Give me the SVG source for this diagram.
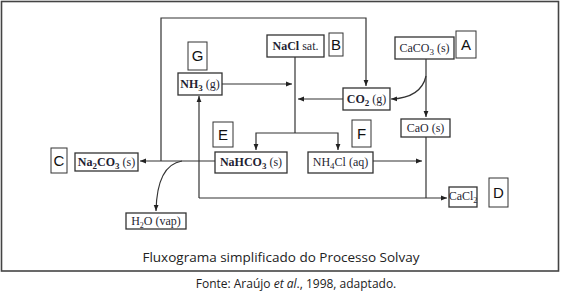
<svg xmlns="http://www.w3.org/2000/svg" width="561" height="292" viewBox="0 0 561 292">
<defs>
<marker id="ah" viewBox="0 0 10 10" refX="10" refY="5" markerWidth="6" markerHeight="6" markerUnits="userSpaceOnUse" orient="auto">
<path d="M0,1 L10,5 L0,9 Z" fill="#222"/>
</marker>
</defs>
<style>
.box{fill:#fff;stroke:#333;stroke-width:1.3}
.lbl{fill:#fff;stroke:#333;stroke-width:1}
.t{font-family:"Liberation Serif","Times New Roman",serif;font-size:12px;fill:#1f1f33;text-anchor:middle}
.b{font-weight:bold}
.L{font-family:"Liberation Sans",Arial,sans-serif;font-size:15px;fill:#111;text-anchor:middle}
.c{fill:none;stroke:#333;stroke-width:1.2}
.a{marker-end:url(#ah)}
.cap{font-family:"Open Sans","Noto Sans",sans-serif;fill:#222;text-anchor:middle}
</style>
<rect x="1.5" y="1.5" width="557" height="269.5" fill="#fff" stroke="#444" stroke-width="1.6"/>
<g id="connectors">
<path class="c a" d="M161,161 V18 H366 V86"/>
<path class="c a" d="M222,84 H292"/>
<path class="c" d="M295,57 V133"/>
<path class="c a" d="M295,133 H256 V150"/>
<path class="c a" d="M295,133 H338 V150"/>
<path class="c a" d="M343,99 H298"/>
<path class="c a" d="M426,59 V117"/>
<path class="c a" d="M426,76 Q421,98 391,99"/>
<path class="c a" d="M373,161 H422"/>
<path class="c" d="M426,137 V198"/>
<path class="c a" d="M199,198 H447"/>
<path class="c a" d="M199,198 V96"/>
<path class="c a" d="M215,161 H140"/>
<path class="c a" d="M182,161 Q157,165 156,211"/>
</g>
<g id="nacl"><rect class="box" x="267" y="35" width="57" height="22"/><text class="t" x="295.5" y="50"><tspan class="b">NaCl</tspan> sat.</text></g>
<g id="label-b"><rect class="lbl" x="329" y="33" width="14" height="23"/><text class="L" x="336" y="50">B</text></g>
<g id="nh3"><rect class="box" x="178" y="73" width="44" height="22"/><text class="t" x="200" y="88"><tspan class="b">NH</tspan><tspan class="b" dy="3" font-size="9">3</tspan><tspan dy="-3"> (g)</tspan></text></g>
<g id="label-g"><rect class="lbl" x="188" y="42" width="19" height="28"/><text class="L" x="197.5" y="61">G</text></g>
<g id="co2"><rect class="box" x="343" y="88" width="47" height="22"/><text class="t" x="366.5" y="103"><tspan class="b">CO</tspan><tspan class="b" dy="3" font-size="9">2</tspan><tspan dy="-3"> (g)</tspan></text></g>
<g id="caco3"><rect class="box" x="395" y="37" width="59" height="22"/><text class="t" x="424.5" y="52">CaCO<tspan dy="3" font-size="9">3</tspan><tspan dy="-3"> (s)</tspan></text></g>
<g id="label-a"><rect class="lbl" x="456" y="31" width="20" height="27"/><text class="L" x="466" y="50">A</text></g>
<g id="cao"><rect class="box" x="401" y="119" width="49" height="18"/><text class="t" x="425.5" y="132">CaO (s)</text></g>
<g id="label-e"><rect class="lbl" x="213" y="122" width="20" height="25"/><text class="L" x="223" y="140">E</text></g>
<g id="label-f"><rect class="lbl" x="352" y="120" width="19" height="27"/><text class="L" x="361.5" y="139">F</text></g>
<g id="nahco3"><rect class="box" x="215" y="152" width="72" height="21"/><text class="t" x="251" y="166"><tspan class="b">NaHCO</tspan><tspan class="b" dy="3" font-size="9">3</tspan><tspan dy="-3"> (s)</tspan></text></g>
<g id="nh4cl"><rect class="box" x="308" y="152" width="65" height="21"/><text class="t" x="340.5" y="166">NH<tspan dy="3" font-size="9">4</tspan><tspan dy="-3">Cl (aq)</tspan></text></g>
<g id="na2co3"><rect class="box" x="75" y="153" width="63" height="18"/><text class="t" x="106.5" y="166"><tspan class="b">Na</tspan><tspan class="b" dy="3" font-size="9">2</tspan><tspan class="b" dy="-3">CO</tspan><tspan class="b" dy="3" font-size="9">3</tspan><tspan dy="-3"> (s)</tspan></text></g>
<g id="label-c"><rect class="lbl" x="51" y="148" width="16" height="25"/><text class="L" x="59" y="166">C</text></g>
<g id="h2o"><rect class="box" x="126" y="213" width="60" height="16"/><text class="t" x="156" y="225" font-size="11">H<tspan dy="3" font-size="8">2</tspan><tspan dy="-3">O (vap)</tspan></text></g>
<g id="cacl2"><rect class="box" x="449" y="187" width="28" height="20"/><text class="t" x="463" y="200" font-size="10.5">CaCl<tspan dy="3" font-size="8">2</tspan></text></g>
<g id="label-d"><rect class="lbl" x="489" y="178" width="19" height="29"/><text class="L" x="498.5" y="198">D</text></g>
<text class="cap" x="281" y="262" font-size="13.5">Fluxograma simplificado do Processo Solvay</text>
<text class="cap" x="296" y="288" font-size="12">Fonte: Araújo <tspan font-style="italic">et al</tspan>., 1998, adaptado.</text>
</svg>
